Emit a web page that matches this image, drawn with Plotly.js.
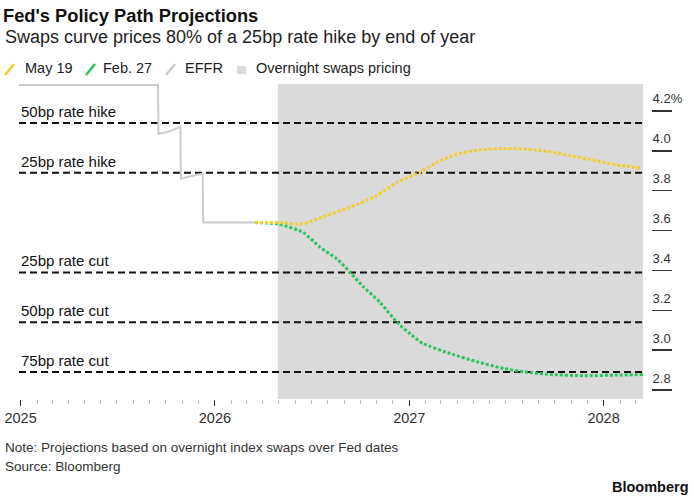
<!DOCTYPE html>
<html>
<head>
<meta charset="utf-8">
<script src="https://cdn.plot.ly/plotly-3.0.1.min.js"></script>
<style>
  html, body { margin: 0; padding: 0; background: #fff; }
  #chart { width: 694px; height: 503px; }
</style>
</head>
<body>
<div id="chart"></div>
<script>
// ---------------- DATA ----------------
const effrDates = ['2024-12-29', '2025-09-16', '2025-09-17', '2025-10-05', '2025-10-28', '2025-10-29', '2025-11-20', '2025-12-09', '2025-12-10', '2026-03-17'];
const effrValues = [4.33, 4.33, 4.085, 4.095, 4.12, 3.86, 3.875, 3.885, 3.64, 3.64];

const may19Dates = ['2026-03-17', '2026-04-30', '2026-06-13', '2026-07-30', '2026-09-12', '2026-11-01', '2026-12-09', '2027-01-21', '2027-02-22', '2027-03-31', '2027-05-14', '2027-07-03', '2027-08-10', '2027-09-23', '2027-10-30', '2027-12-19', '2028-01-26', '2028-03-12'];
const may19Values = [3.64, 3.64, 3.633, 3.675, 3.717, 3.775, 3.842, 3.892, 3.942, 3.983, 4.005, 4.012, 4.008, 3.995, 3.975, 3.95, 3.929, 3.914];

const feb27Dates = ['2026-03-17', '2026-04-30', '2026-06-16', '2026-07-17', '2026-08-18', '2026-09-12', '2026-10-07', '2026-11-07', '2026-12-09', '2027-01-02', '2027-01-27', '2027-03-19', '2027-05-08', '2027-06-27', '2027-08-04', '2027-09-23', '2027-11-24', '2028-01-26', '2028-03-15'];
const feb27Values = [3.64, 3.633, 3.59, 3.517, 3.458, 3.39, 3.317, 3.24, 3.14, 3.083, 3.033, 2.983, 2.942, 2.908, 2.892, 2.878, 2.872, 2.875, 2.878];

const levelLabels = ['50bp rate hike', '25bp rate hike', '25bp rate cut', '50bp rate cut', '75bp rate cut'];
const levelValues = [4.14, 3.89, 3.39, 3.14, 2.89];

const swapsPricingStart = '2026-04-29';

const yTickVals = [2.8, 3.0, 3.2, 3.4, 3.6, 3.8, 4.0, 4.2];
const yTickText = ['2.8', '3.0', '3.2', '3.4', '3.6', '3.8', '4.0', '4.2%'];
const xTickVals = ['2025-01-01', '2026-01-01', '2027-01-01', '2028-01-01'];
const xTickText = ['2025', '2026', '2027', '2028'];

const legendLabels = ['May 19', 'Feb. 27', 'EFFR', 'Overnight swaps pricing'];

// ---------------- STYLE / LAYOUT ----------------
const W = 694, H = 503;
const M = { l: 19, r: 43, t: 84, b: 104 };
const PW = W - M.l - M.r, PH = H - M.t - M.b;
const px = x => (x - M.l) / PW;
const py = y => (H - M.b - y) / PH;

const xRange = ['2024-12-29', '2028-03-15'];
const yRange = [2.755, 4.335];

const FONT = 'Liberation Sans, Arial, Helvetica, sans-serif';
const YELLOW = '#f2cf2b', GREEN = '#2ac45e', GRAY = '#cccccc', SHADE = '#dadada';

const traces = [
  { x: effrDates, y: effrValues, type: 'scatter', mode: 'lines', name: legendLabels[2],
    line: { color: GRAY, width: 2 }, hoverinfo: 'skip' },
  { x: feb27Dates, y: feb27Values, type: 'scatter', mode: 'lines', name: legendLabels[1],
    line: { color: GREEN, width: 3, dash: '3px,2px', shape: 'spline', smoothing: 0.6 } },
  { x: may19Dates, y: may19Values, type: 'scatter', mode: 'lines', name: legendLabels[0],
    line: { color: YELLOW, width: 3, dash: '3px,2px', shape: 'spline', smoothing: 0.6 } }
];

const shapes = [
  { type: 'rect', xref: 'x', yref: 'y domain', x0: swapsPricingStart, x1: xRange[1], y0: 0, y1: 1,
    fillcolor: SHADE, line: { width: 0 }, layer: 'below' }
];
levelValues.forEach(v => shapes.push({
  type: 'line', xref: 'x domain', yref: 'y', x0: 0, x1: 1, y0: v, y1: v,
  line: { color: '#111', width: 2, dash: '7px,4px' }, layer: 'below'
}));

// legend glyphs
const slash = (x0, color) => ({ type: 'line', xref: 'paper', yref: 'paper',
  x0: px(x0), y0: py(75), x1: px(x0 + 9), y1: py(64), line: { color: color, width: 2.5 } });
shapes.push(slash(5, YELLOW), slash(86, GREEN), slash(166, GRAY));
shapes.push({ type: 'rect', xref: 'paper', yref: 'paper', x0: px(237), x1: px(246), y0: py(74), y1: py(66),
  fillcolor: SHADE, line: { width: 0 } });

const annotations = [];
levelValues.forEach((v, i) => annotations.push({
  xref: 'x domain', yref: 'y', x: 0, y: v, xanchor: 'left', yanchor: 'bottom', yshift: 1,
  text: levelLabels[i], showarrow: false, font: { family: FONT, size: 15, color: '#111' }
}));
const legX = [23, 101, 183, 254];
legendLabels.forEach((t, i) => annotations.push({
  xref: 'paper', yref: 'paper', x: px(legX[i]), y: py(68), xanchor: 'left', yanchor: 'middle',
  text: t, showarrow: false, font: { family: FONT, size: 14.5, color: '#222' }
}));
annotations.push({
  xref: 'paper', yref: 'paper', x: px(3), y: py(37), xanchor: 'left', yanchor: 'middle',
  text: 'Swaps curve prices 80% of a 25bp rate hike by end of year', showarrow: false,
  font: { family: FONT, size: 18, color: '#222' }
});
annotations.push({
  xref: 'paper', yref: 'paper', x: px(3), y: py(448), xanchor: 'left', yanchor: 'middle',
  text: 'Note: Projections based on overnight index swaps over Fed dates', showarrow: false,
  font: { family: FONT, size: 13.5, color: '#333' }
});
annotations.push({
  xref: 'paper', yref: 'paper', x: px(3), y: py(466), xanchor: 'left', yanchor: 'middle',
  text: 'Source: Bloomberg', showarrow: false,
  font: { family: FONT, size: 13.5, color: '#333' }
});
annotations.push({
  xref: 'paper', yref: 'paper', x: px(691), y: py(487), xanchor: 'right', yanchor: 'middle',
  text: '<b>Bloomberg</b>', showarrow: false,
  font: { family: FONT, size: 14.5, color: '#111' }
});

const layout = {
  width: W, height: H, margin: M,
  paper_bgcolor: '#fff', plot_bgcolor: 'rgba(0,0,0,0)',
  showlegend: false,
  title: { text: "<b>Fed's Policy Path Projections</b>", xref: 'container', yref: 'container',
    x: 3 / W, xanchor: 'left', y: 1 - 16 / H, yanchor: 'middle',
    font: { family: FONT, size: 18.3, color: '#111' } },
  xaxis: {
    type: 'date', domain: [0, (643 - M.l) / PW], range: xRange,
    tickvals: xTickVals, ticktext: xTickText,
    ticks: 'outside', ticklen: 6, tickwidth: 1, tickcolor: '#333',
    tickfont: { family: FONT, size: 14.5, color: '#333' },
    minor: { dtick: 'M1', tick0: '2025-01-01', ticks: 'outside', ticklen: 4, tickwidth: 1, tickcolor: '#bbb', showgrid: false },
    showgrid: false, zeroline: false, showline: false, fixedrange: true
  },
  yaxis: {
    range: yRange, side: 'right', anchor: 'free', position: 1,
    tickvals: yTickVals, ticktext: yTickText,
    ticks: 'outside', ticklen: 20, tickwidth: 1.5, tickcolor: '#333',
    ticklabelshift: -12, ticklabelstandoff: -22,
    tickfont: { family: FONT, size: 13, color: '#333' },
    showgrid: false, zeroline: false, showline: false, fixedrange: true
  },
  shapes: shapes,
  annotations: annotations
};

Plotly.newPlot('chart', traces, layout, { displayModeBar: false, staticPlot: true });
</script>
</body>
</html>
